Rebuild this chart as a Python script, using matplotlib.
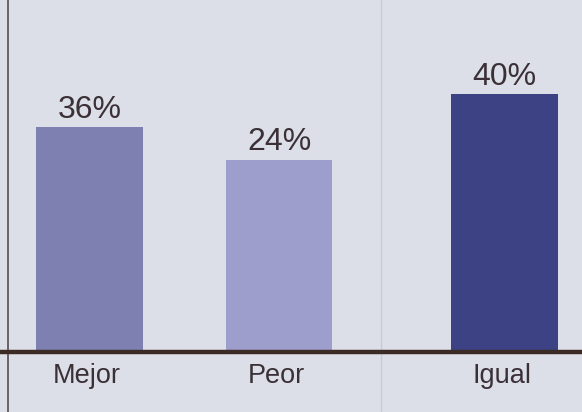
import numpy as np
import matplotlib
matplotlib.use("Agg")
import matplotlib.pyplot as plt

# datos de la encuesta
categorias = ["Mejor", "Peor", "Igual"]
etiquetas = ["36%", "24%", "40%"]
# altura dibujada de cada barra
alturas = [36, 30.8, 41.3]
colores = ["#7e80b2", "#9d9ecb", "#3d4285"]

plt.rcParams['font.family'] = ['Liberation Sans', 'DejaVu Sans']

fondo = "#dcdfe8"
texto = "#3a3036"

fig = plt.figure(figsize=(5.82, 4.12), dpi=100)
fig.patch.set_facecolor(fondo)
ax = fig.add_axes([0, 0, 1, 1])
ax.set_facecolor(fondo)

# Igual esta en otra columna, algo mas separada
pos = np.array([0, 1, 2.19])
ax.bar(pos, alturas, width=0.564, color=colores, zorder=2)

for x, h, t in zip(pos, alturas, etiquetas):
    ax.annotate(t, (x, h), xytext=(0, 6.5), textcoords="offset points",
                ha="center", va="baseline", fontsize=23, color=texto)

for x, c in zip(pos, categorias):
    ax.annotate(c, (x, 0), xytext=(-2, -22.3), textcoords="offset points",
                ha="center", va="baseline", fontsize=19.5, color=texto)

# linea base gruesa
ax.axhline(0, color="#3b2b24", lw=3.2, zorder=3)
# filete vertical izquierdo y separador de columna
ax.plot([0.0129, 0.0129], [0, 1], transform=ax.transAxes, color="#6a6266", lw=1.4)
ax.plot([0.655, 0.655], [0, 1], transform=ax.transAxes, color="#c9ccd6", lw=1.0, zorder=1)

ax.set_xlim(-0.4715, 2.598)
ax.set_ylim(-9.6, 56.32)
ax.axis("off")

fig.savefig("out.png", dpi=100, facecolor=fondo)
